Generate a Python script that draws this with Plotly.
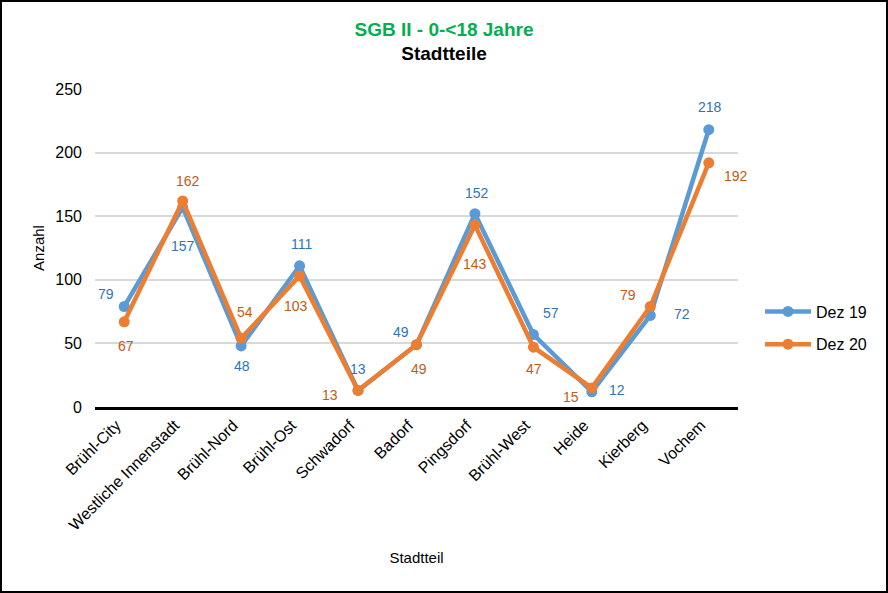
import plotly.graph_objects as go

categories = ["Brühl-City", "Westliche Innenstadt", "Brühl-Nord", "Brühl-Ost", "Schwadorf",
              "Badorf", "Pingsdorf", "Brühl-West", "Heide", "Kierberg", "Vochem"]
dez19 = [79, 157, 48, 111, 13, 49, 152, 57, 12, 72, 218]
dez20 = [67, 162, 54, 103, 13, 49, 143, 47, 15, 79, 192]
y_ticks = [0, 50, 100, 150, 200, 250]

# label offsets in pixels (dx, dy with dy positive = downward)
off19 = [(-18, -13), (0, 39), (1, 20), (2, -22), (0, -21), (-16, -13),
         (2, -21), (18, -22), (25, -2), (32, -1), (1, -23)]
off20 = [(2, 24), (5, -20), (4, -26), (-4, 30), (-28, 5), (2, 24),
         (0, 39), (1, 22), (-21, 9), (-22, -12), (27, 13)]

W, H = 888, 593
ml, mr, mt, mb = 95, 150, 89, 186
pw, ph = W - ml - mr, H - mt - mb

font = "Liberation Sans, Arial, sans-serif"
BLUE, BLUE_T = "#5B9BD5", "#2E75B6"
ORANGE, ORANGE_T = "#ED7D31", "#C55A11"

fig = go.Figure()
fig.add_trace(go.Scatter(x=categories, y=dez19, name="Dez 19", mode="lines+markers",
                         legendgroup="a",
                         line=dict(color=BLUE, width=4.5), marker=dict(size=11, color=BLUE)))
fig.add_trace(go.Scatter(x=categories, y=dez20, name="Dez 20", mode="lines+markers",
                         legendgroup="b",
                         line=dict(color=ORANGE, width=4.5), marker=dict(size=11, color=ORANGE)))

for vals, offs, col in [(dez19, off19, BLUE_T), (dez20, off20, ORANGE_T)]:
    for c, v, (dx, dy) in zip(categories, vals, offs):
        fig.add_annotation(x=c, y=v, xref="x", yref="y", text=str(v), showarrow=False,
                           xanchor="center", yanchor="middle", xshift=dx, yshift=-dy,
                           font=dict(size=14, color=col, family=font))

fig.update_layout(
    width=W, height=H,
    margin=dict(l=ml, r=mr, t=mt, b=mb),
    paper_bgcolor="white", plot_bgcolor="white",
    font=dict(family=font, size=14, color="#000000"),
    title=dict(text="<span style='color:#00B050'>SGB II - 0-&lt;18 Jahre</span><br>Stadtteile",
               x=0.5, xref="container", xanchor="center", y=0.94, yanchor="top",
               font=dict(size=19, family=font, color="#000000", weight="bold")),
    xaxis=dict(type="category", range=[-0.5, len(categories) - 0.5], tickangle=-45,
               showgrid=False, showline=True, linecolor="#000000",
               linewidth=2.5, ticks="", tickfont=dict(size=16, family=font), automargin=False,
               ticklabelshift=-8,
               title=dict(text="Stadtteil", font=dict(size=15, family=font), standoff=20)),
    yaxis=dict(range=[0, 250], tickvals=y_ticks, showgrid=True, gridcolor="#D9D9D9", gridwidth=1.5,
               zeroline=False, showline=False, ticks="", tickfont=dict(size=16, family=font),
               ticklabelstandoff=12, automargin=False,
               title=dict(text="Anzahl", font=dict(size=15, family=font), standoff=7)),
    legend=dict(x=(760 - ml) / pw, y=(407 - 328) / ph, xanchor="left", yanchor="middle",
                font=dict(size=16, family=font), tracegroupgap=9, itemwidth=46),
    showlegend=True,
)

fig.add_shape(type="rect", xref="paper", yref="paper",
              x0=-(ml - 1) / pw, x1=1 + (mr - 1) / pw,
              y0=-(mb - 1) / ph, y1=1 + (mt - 1) / ph,
              line=dict(color="#000000", width=2), fillcolor="rgba(0,0,0,0)", layer="above")

fig.write_html("out.html", config={"displayModeBar": False},
               post_script="document.body.style.margin='0';document.body.style.padding='0';")
